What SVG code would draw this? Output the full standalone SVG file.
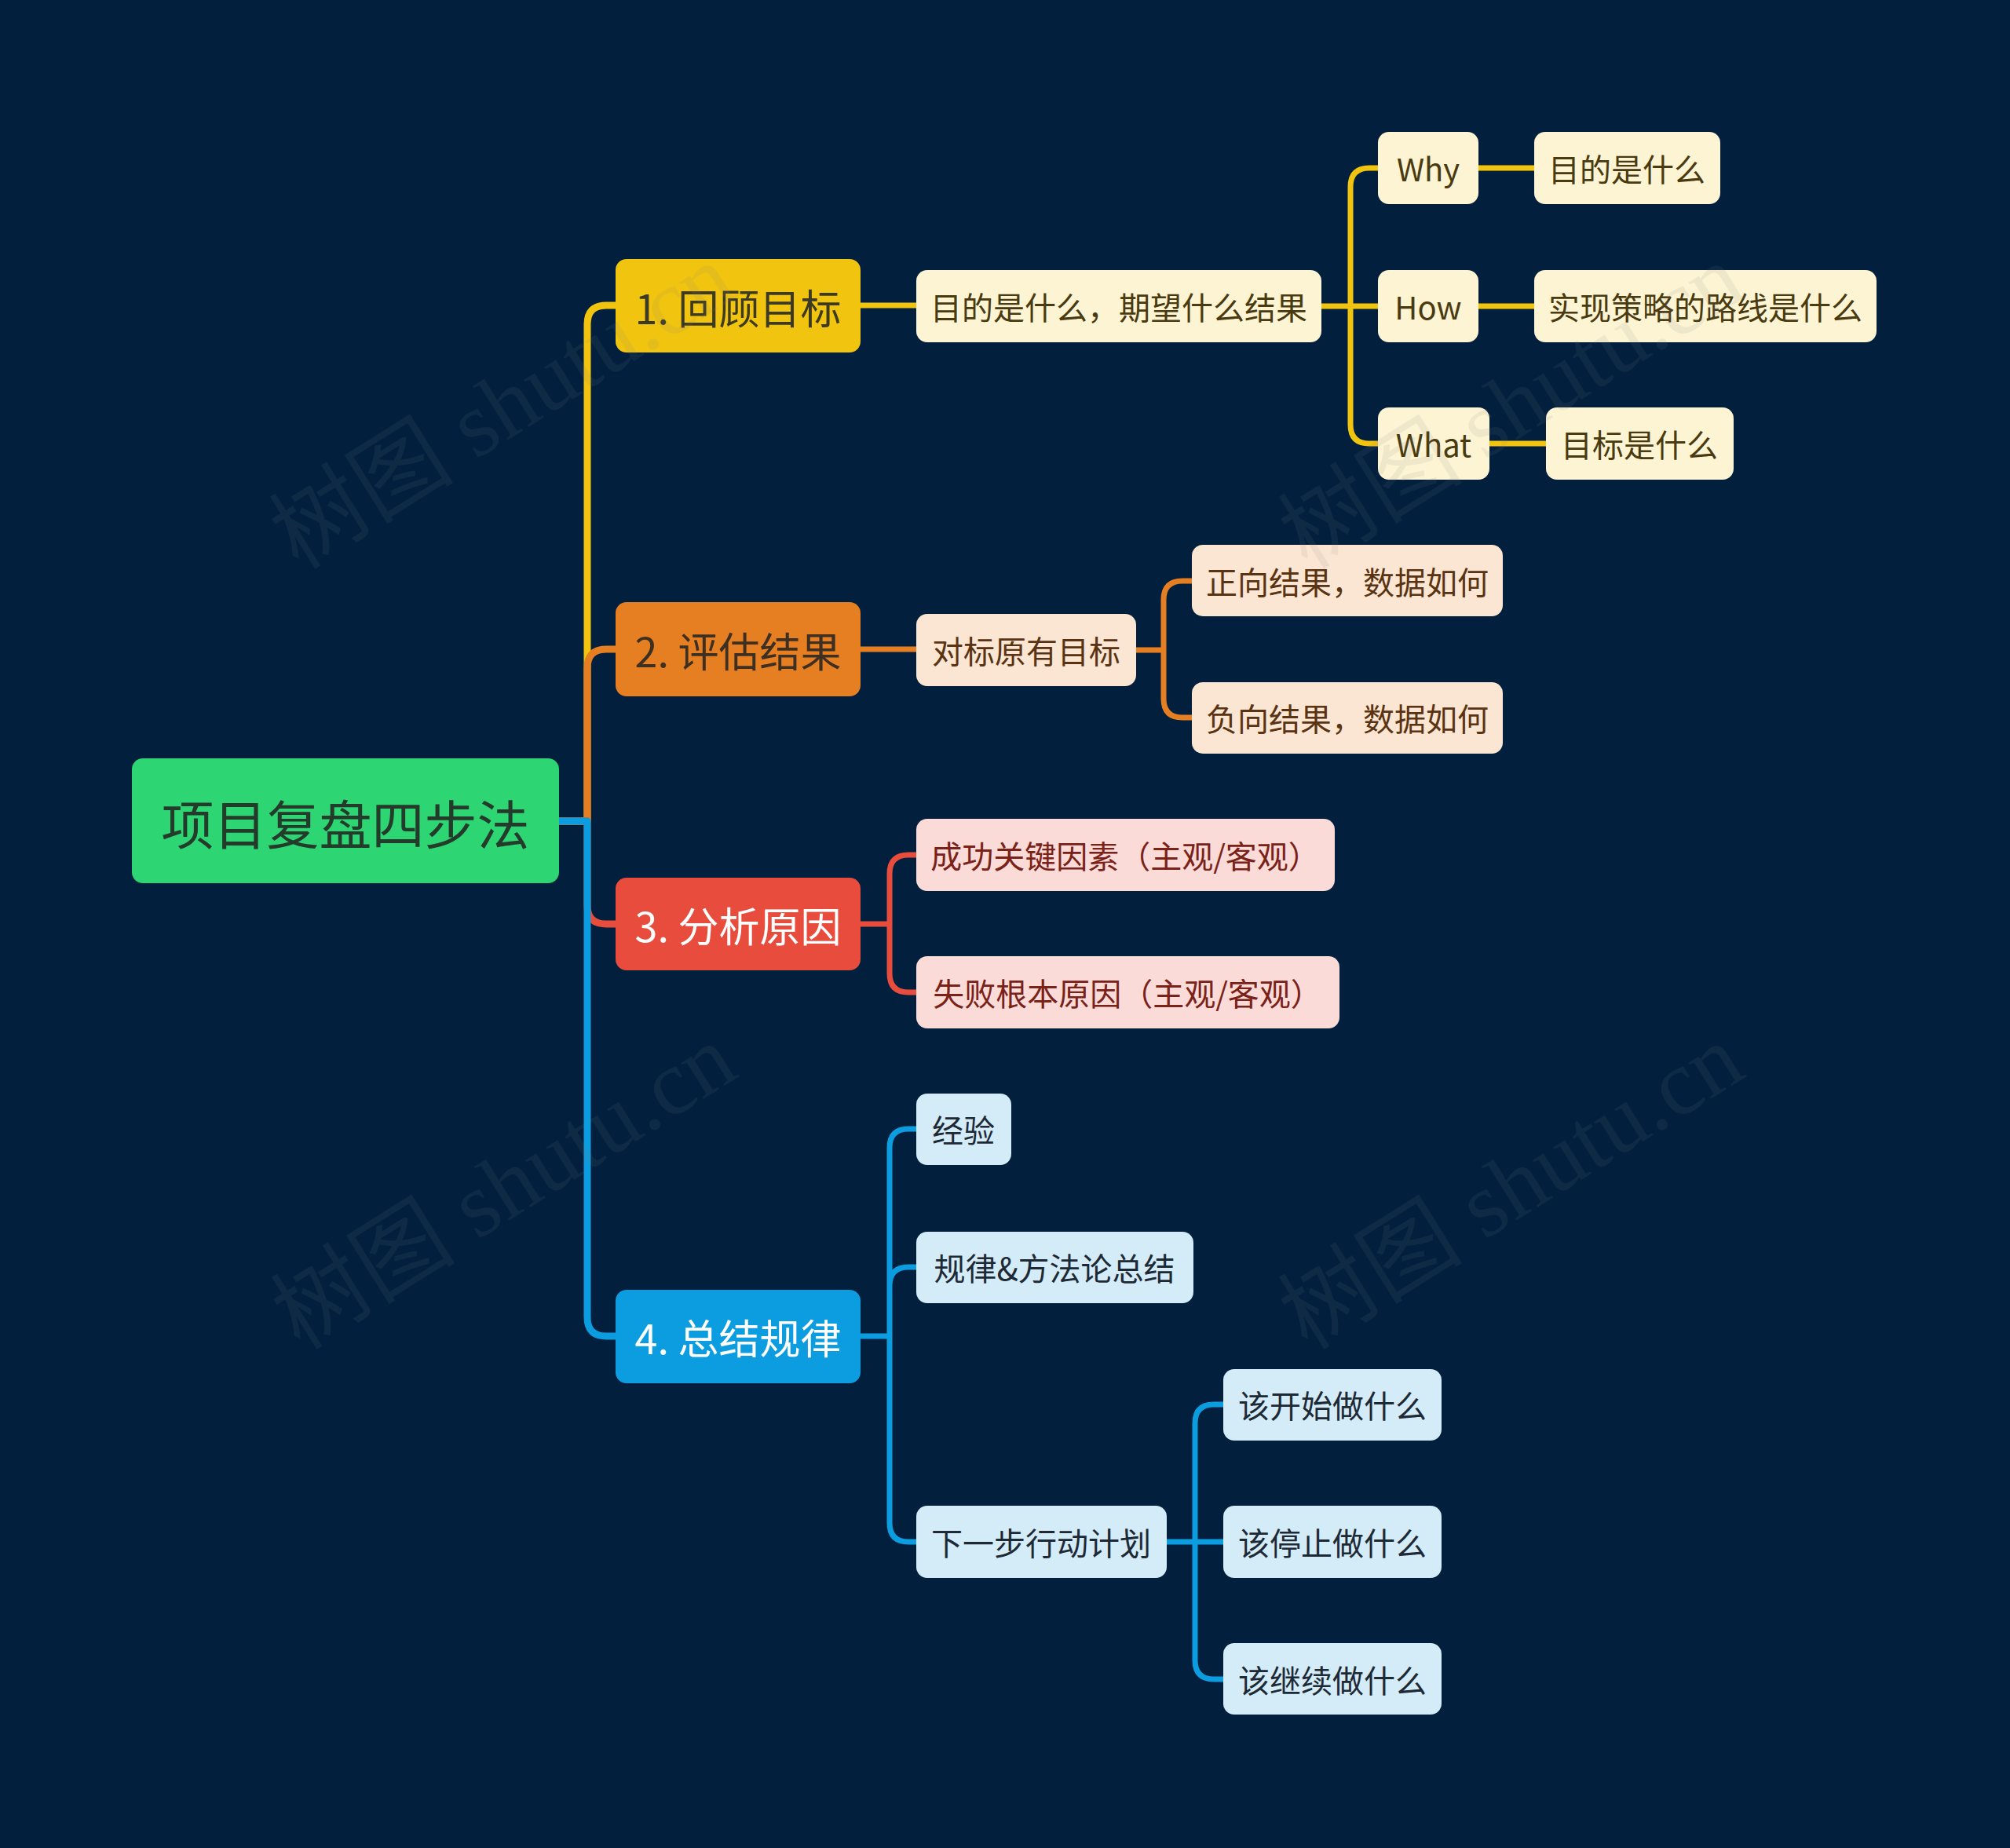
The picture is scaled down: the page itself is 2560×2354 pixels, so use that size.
<svg xmlns="http://www.w3.org/2000/svg" width="2560" height="2354" viewBox="0 0 2560 2354">
<style>
.t{font-family:"Noto Sans CJK SC","Noto Sans",sans-serif;text-anchor:middle;dominant-baseline:central}
.l1{font-size:52px}
.l2{font-size:40px}
.c{fill:none;stroke-width:7;stroke-linejoin:round}
.c0{fill:none;stroke-width:9;stroke-linejoin:round}
.wm{font-family:"Liberation Serif","Noto Sans CJK SC",serif;font-size:118px;fill:#808080;fill-opacity:0.11;text-anchor:middle;dominant-baseline:central}
</style>
<rect width="2560" height="2354" fill="#02203e"/>
<g id="connectors">
<path class="c0" stroke="#f1c40f" d="M712,1046 H748 V413 Q748,389 772,389 H784"/>
<path class="c0" stroke="#e67e22" d="M712,1046 H748 V851 Q748,827 772,827 H784"/>
<path class="c0" stroke="#e74c3c" d="M712,1046 H748 V1153 Q748,1177 772,1177 H784"/>
<path class="c0" stroke="#0c9ce0" d="M712,1046 H748 V1678 Q748,1702 772,1702 H784"/>
<path class="c" stroke="#f1c40f" d="M1096,389 H1167 M1683,390 H1755 M1720,390 V238 Q1720,214 1744,214 H1755 M1720,390 V541 Q1720,565 1744,565 H1755 M1883,214 H1954 M1883,390 H1954 M1897,565 H1969"/>
<path class="c" stroke="#e67e22" d="M1096,827 H1167 M1447,828 H1482 V764 Q1482,740 1506,740 H1518 M1482,828 V890 Q1482,914 1506,914 H1518"/>
<path class="c" stroke="#e74c3c" d="M1096,1177 H1133 M1133,1177 V1113 Q1133,1089 1157,1089 H1167 M1133,1177 V1240 Q1133,1264 1157,1264 H1167"/>
<path class="c" stroke="#0c9ce0" d="M1096,1702 H1133 M1133,1702 V1462 Q1133,1438 1157,1438 H1167 M1133,1702 V1638 Q1133,1614 1157,1614 H1167 M1133,1702 V1940 Q1133,1964 1157,1964 H1167 M1486,1964 H1558 M1522,1964 V1813 Q1522,1789 1546,1789 H1558 M1522,1964 V2115 Q1522,2139 1546,2139 H1558"/>
</g>
<g id="root">
<rect x="168" y="966" width="544" height="159" rx="14" fill="#2ed573"/>
<text class="t" x="440" y="1046" font-size="67" fill="#243b2c">项目复盘四步法</text>
</g>
<g id="n1">
<rect x="784" y="330" width="312" height="119" rx="14" fill="#f1c40f"/>
<text class="t l1" x="940" y="390" fill="#3d3a24">1. 回顾目标</text>
</g>
<g id="n2">
<rect x="784" y="767" width="312" height="120" rx="14" fill="#e67e22"/>
<text class="t l1" x="940" y="827" fill="#3d2f22">2. 评估结果</text>
</g>
<g id="n3">
<rect x="784" y="1118" width="312" height="118" rx="14" fill="#e74c3c"/>
<text class="t l1" x="940" y="1177" fill="#ffffff">3. 分析原因</text>
</g>
<g id="n4">
<rect x="784" y="1643" width="312" height="119" rx="14" fill="#0c9ce0"/>
<text class="t l1" x="940" y="1702" fill="#ffffff">4. 总结规律</text>
</g>
<g id="n1a">
<rect x="1167" y="344" width="516" height="92" rx="14" fill="#fdf4d4"/>
<text class="t l2" x="1425" y="390" fill="#4a3a10">目的是什么，期望什么结果</text>
</g>
<g id="n1a1">
<rect x="1755" y="168" width="128" height="92" rx="14" fill="#fdf4d4"/>
<text class="t l2" x="1819" y="214" fill="#4a3a10">Why</text>
</g>
<g id="n1a1a">
<rect x="1954" y="168" width="237" height="92" rx="14" fill="#fdf4d4"/>
<text class="t l2" x="2072" y="214" fill="#4a3a10">目的是什么</text>
</g>
<g id="n1a2">
<rect x="1755" y="344" width="128" height="92" rx="14" fill="#fdf4d4"/>
<text class="t l2" x="1819" y="390" fill="#4a3a10">How</text>
</g>
<g id="n1a2a">
<rect x="1954" y="344" width="436" height="92" rx="14" fill="#fdf4d4"/>
<text class="t l2" x="2172" y="390" fill="#4a3a10">实现策略的路线是什么</text>
</g>
<g id="n1a3">
<rect x="1755" y="519" width="142" height="92" rx="14" fill="#fdf4d4"/>
<text class="t l2" x="1826" y="565" fill="#4a3a10">What</text>
</g>
<g id="n1a3a">
<rect x="1969" y="519" width="239" height="92" rx="14" fill="#fdf4d4"/>
<text class="t l2" x="2088" y="565" fill="#4a3a10">目标是什么</text>
</g>
<g id="n2a">
<rect x="1167" y="782" width="280" height="92" rx="14" fill="#fbe6d3"/>
<text class="t l2" x="1307" y="828" fill="#5a3312">对标原有目标</text>
</g>
<g id="n2a1">
<rect x="1518" y="694" width="396" height="91" rx="14" fill="#fbe6d3"/>
<text class="t l2" x="1716" y="740" fill="#5a3312">正向结果，数据如何</text>
</g>
<g id="n2a2">
<rect x="1518" y="869" width="396" height="91" rx="14" fill="#fbe6d3"/>
<text class="t l2" x="1716" y="914" fill="#5a3312">负向结果，数据如何</text>
</g>
<g id="n3a">
<rect x="1167" y="1043" width="533" height="92" rx="14" fill="#fadbd8"/>
<text class="t l2" x="1433" y="1089" fill="#7a2118">成功关键因素（主观/客观）</text>
</g>
<g id="n3b">
<rect x="1167" y="1218" width="539" height="92" rx="14" fill="#fadbd8"/>
<text class="t l2" x="1436" y="1264" fill="#7a2118">失败根本原因（主观/客观）</text>
</g>
<g id="n4a">
<rect x="1167" y="1393" width="121" height="91" rx="14" fill="#d4ebf8"/>
<text class="t l2" x="1227" y="1438" fill="#1d2a35">经验</text>
</g>
<g id="n4b">
<rect x="1167" y="1569" width="353" height="91" rx="14" fill="#d4ebf8"/>
<text class="t l2" x="1343" y="1614" fill="#1d2a35">规律&amp;方法论总结</text>
</g>
<g id="n4c">
<rect x="1167" y="1918" width="319" height="92" rx="14" fill="#d4ebf8"/>
<text class="t l2" x="1326" y="1964" fill="#1d2a35">下一步行动计划</text>
</g>
<g id="n4c1">
<rect x="1558" y="1744" width="278" height="91" rx="14" fill="#d4ebf8"/>
<text class="t l2" x="1697" y="1789" fill="#1d2a35">该开始做什么</text>
</g>
<g id="n4c2">
<rect x="1558" y="1918" width="278" height="92" rx="14" fill="#d4ebf8"/>
<text class="t l2" x="1697" y="1964" fill="#1d2a35">该停止做什么</text>
</g>
<g id="n4c3">
<rect x="1558" y="2093" width="278" height="91" rx="14" fill="#d4ebf8"/>
<text class="t l2" x="1697" y="2139" fill="#1d2a35">该继续做什么</text>
</g>
<g id="watermarks">
<text class="wm" transform="translate(640,518) rotate(-32)">树图 shutu.cn</text>
<text class="wm" transform="translate(1925,518) rotate(-32)">树图 shutu.cn</text>
<text class="wm" transform="translate(642,1512) rotate(-32)">树图 shutu.cn</text>
<text class="wm" transform="translate(1925,1512) rotate(-32)">树图 shutu.cn</text>
</g>
</svg>
